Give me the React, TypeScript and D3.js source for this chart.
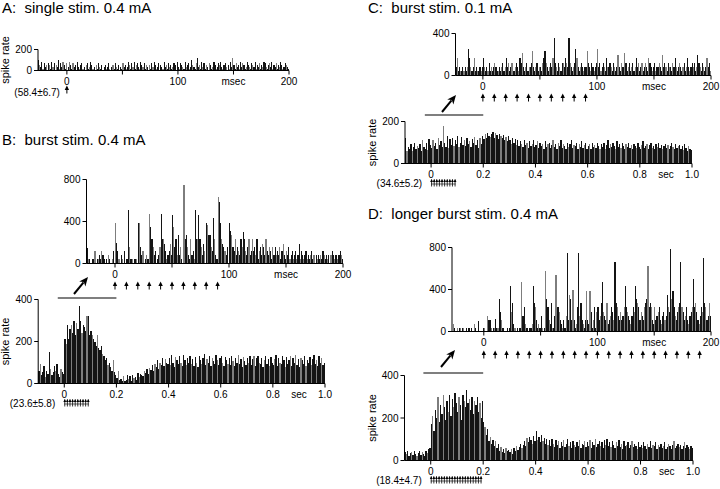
import React from 'react';
import * as d3 from 'd3';

const FONT = '"Liberation Sans", Arial, Helvetica, sans-serif';

// ---------- DATA ----------
// Panel A: single stim 0.4 mA, 1 ms bins starting at -26 ms
const aStart = -26;
const aRate = [
  102, 51, 34, 85, 17, 68, 34, 51, 0, 68, 51, 17, 85, 34, 68, 0, 51, 34, 102, 17,
  68, 34, 85, 51, 17, 68, 0, 34, 85, 51, 17, 68, 34, 51, 0, 85, 34, 17, 51, 68,
  17, 34, 0, 51, 68, 17, 34, 85, 51, 17, 34, 0, 51, 17, 68, 34, 17, 51, 0, 34,
  51, 17, 34, 68, 17, 0, 34, 51, 17, 68, 34, 17, 51, 0, 34, 17, 68, 34, 51, 17,
  34, 85, 51, 17, 68, 34, 85, 17, 51, 68, 34, 17, 85, 51, 34, 68, 17, 51, 34, 0,
  51, 17, 68, 34, 85, 51, 17, 34, 68, 0, 51, 34, 17, 85, 34, 51, 17, 68, 34, 51,
  17, 34, 68, 51, 0, 85, 34, 17, 68, 51, 34, 17, 85, 34, 51, 68, 17, 34, 102, 51,
  34, 17, 68, 119, 34, 51, 17, 85, 34, 68, 17, 51, 34, 0, 68, 51, 17, 34, 85, 51,
  17, 34, 68, 51, 85, 34, 17, 51, 68, 34, 0, 51, 17, 85, 34, 119, 51, 17, 68, 34,
  51, 17, 85, 34, 68, 51, 17, 34, 85, 51, 34, 17, 68, 51, 34, 85, 17, 51, 34, 68,
  17, 51, 34, 85, 68, 34, 17, 51, 68, 34, 85, 17, 51, 34, 68, 17, 51, 34, 85, 51,
  17, 34, 68, 51, 34, 17,
];

// Panel B upper: burst stim 0.4 mA, 1 ms bins from -25 ms
const bUpStart = -25;
const bUpRate = [
  150, 40, 40, 0, 0, 40, 40, 115, 0, 40, 40, 80, 40, 115, 80, 40, 0, 40, 0, 80, 40, 0, 40, 115, 0,
  390, 200, 115, 40, 0, 80, 40, 0, 115, 0,
  40, 510, 155, 40, 40, 40, 0, 40, 40, 0,
  390, 390, 155, 80, 115, 0, 40, 80, 40, 40,
  470, 350, 230, 155, 80, 115, 0, 40, 80, 155,
  470, 230, 230, 190, 115, 40, 80, 115, 190, 80,
  460, 350, 155, 230, 80, 270, 80, 155, 40, 0,
  750, 230, 270, 155, 80, 40, 230, 80, 115, 40,
  510, 230, 230, 460, 230, 155, 80, 190, 115, 0,
  390, 370, 270, 270, 155, 115, 430, 230, 80, 40,
  630, 590, 390, 230, 190, 155, 115, 80, 155, 0,
  390, 310, 270, 155, 115, 230, 80, 155, 115, 80,
  230, 155, 300, 230, 115, 80, 155, 230, 80, 115,
  230, 115, 155, 80, 230, 40, 115, 155, 80, 190,
  155, 80, 230, 115, 80, 155, 115, 40, 155, 80,
  155, 80, 115, 80, 155, 40, 115, 190, 80, 40,
  115, 80, 155, 40, 80, 115, 40, 80, 115, 40,
  80, 190, 40, 115, 80, 40, 80, 115, 40, 80,
  40, 80, 115, 40, 80, 0, 80, 40, 80, 40,
  80, 40, 115, 80, 40, 80, 40, 80, 0, 80,
  120, 80, 40, 80, 80, 40, 80, 115, 80, 40,
];

// Panel B lower: 5 ms bins from -100 ms to 1000 ms
const lowStart = -100;
const bLowRate = [
  60, 95, 40, 55, 85, 30, 60, 45, 150, 70,
  40, 55, 85, 60, 95, 45, 30, 70, 55, 45,
  210, 190, 280, 210, 260, 280, 240, 300, 230, 290,
  260, 370, 300, 240, 280, 270, 250, 320, 320, 230,
  250, 230, 210, 200, 180, 230, 170, 160, 180, 140,
  130, 110, 120, 90, 100, 80, 60, 110, 55, 40,
  25, 60, 15, 20, 10, 35, 10, 15, 40, 20,
  35, 10, 40, 25, 30, 15, 50, 30, 45, 40,
  35, 60, 50, 70, 45, 75, 65, 90, 60, 95,
  80, 110, 70, 100, 90, 120, 85, 115, 100, 95,
  120, 90, 135, 100, 80, 125, 110, 95, 130, 100,
  85, 135, 110, 90, 120, 100, 130, 95, 115, 85,
  125, 100, 80, 130, 110, 95, 120, 140, 90, 115,
  100, 130, 85, 120, 105, 95, 135, 110, 90, 120,
  130, 100, 85, 125, 110, 95, 120, 90, 130, 105,
  85, 120, 100, 135, 95, 115, 80, 125, 105, 90,
  120, 100, 130, 90, 115, 130, 85, 120, 130, 100,
  95, 120, 80, 110, 130, 95, 115, 85, 125, 100,
  90, 115, 135, 85, 120, 100, 95, 130, 110, 80,
  125, 95, 110, 130, 85, 120, 100, 135, 90, 115,
  80, 120, 110, 95, 130, 85, 110, 100, 125, 90,
  115, 135, 95, 110, 85, 130, 100, 120, 90, 100,
];

// Panel C upper: burst stim 0.1 mA, 1 ms bins from -24 ms
const cUpStart = -24;
const cUpRate = [
  80, 170, 40, 80, 40, 40, 80, 40, 80, 40, 80, 250, 170, 80, 40, 80, 170, 40, 80, 40, 40, 80, 40, 80,
  170, 80, 40, 80, 40, 120, 40, 80, 40, 80,
  120, 80, 40, 40, 80, 40, 80, 120, 40, 80,
  170, 80, 120, 40, 80, 120, 40, 40, 80, 120,
  80, 40, 170, 120, 210, 80, 40, 80, 120, 40,
  80, 80, 120, 230, 80, 40, 80, 120, 40, 80,
  80, 40, 120, 170, 230, 120, 80, 40, 80, 120,
  80, 170, 360, 120, 80, 40, 120, 80, 40, 120,
  120, 80, 170, 120, 80, 360, 120, 80, 40, 80,
  120, 250, 170, 80, 40, 80, 120, 80, 40, 80,
  80, 230, 120, 80, 40, 120, 80, 40, 80, 120,
  250, 80, 120, 40, 80, 120, 80, 40, 170, 80,
  80, 120, 80, 40, 120, 80, 40, 80, 200, 80,
  40, 120, 80, 80, 210, 120, 40, 80, 120, 40,
  80, 120, 40, 80, 170, 80, 120, 40, 80, 120,
  40, 80, 120, 80, 40, 170, 120, 80, 40, 80,
  120, 40, 80, 80, 120, 80, 40, 200, 80, 120,
  80, 40, 120, 80, 80, 40, 120, 80, 170, 80,
  40, 80, 120, 80, 40, 80, 120, 40, 80, 170,
  80, 40, 80, 120, 80, 120, 40, 80, 200, 120,
  80, 40, 120, 80, 40, 80, 170, 80, 120, 40,
];

// Panel C lower: 5 ms bins
const cLowRate = [
  120, 60, 80, 70, 95, 60, 80, 100, 70, 85,
  75, 95, 60, 110, 80, 70, 100, 65, 115, 90,
  75, 110, 85, 100, 70, 120, 90, 105, 80, 180,
  100, 80, 130, 75, 115, 90, 120, 85, 110, 95,
  130, 80, 100, 125, 90, 110, 85, 120, 95, 105,
  80, 115, 100, 125, 90, 110, 75, 120, 95, 130,
  115, 140, 120, 145, 130, 125, 140, 150, 120, 145,
  135, 115, 140, 130, 120, 135, 110, 125, 105, 130,
  110, 95, 120, 100, 115, 90, 110, 85, 105, 95,
  80, 110, 90, 100, 75, 105, 85, 95, 110, 80,
  90, 105, 75, 100, 85, 95, 70, 105, 80, 95,
  100, 75, 90, 110, 80, 95, 70, 100, 85, 110,
  75, 95, 85, 70, 100, 80, 95, 110, 75, 90,
  85, 100, 70, 95, 80, 105, 75, 90, 100, 70,
  85, 95, 70, 100, 80, 90, 75, 100, 85, 70,
  95, 80, 100, 70, 90, 110, 75, 95, 80, 100,
  85, 70, 105, 80, 95, 75, 100, 85, 70, 95,
  80, 100, 75, 90, 70, 95, 85, 75, 100, 80,
  70, 90, 105, 75, 85, 95, 70, 90, 100, 75,
  85, 70, 95, 80, 100, 75, 90, 70, 85, 95,
  75, 90, 70, 85, 100, 80, 70, 95, 75, 85,
  90, 70, 85, 65, 95, 75, 60, 85, 70, 65,
];

// Panel D upper: longer burst stim 0.4 mA, 1 ms bins from -28 ms
const dUpStart = -28;
const dUpRate = [
  0, 70, 30, 0, 30, 0, 30, 30, 0, 30, 30, 0, 30, 0, 30, 30, 0, 30, 0, 70, 30, 0, 0, 100, 0, 0, 0, 30,
  30, 0, 0, 150, 110, 110, 30, 0, 30, 30,
  120, 30, 30, 310, 190, 110, 30, 30, 0, 0,
  30, 0, 30, 430, 190, 270, 70, 30, 0, 30,
  0, 30, 30, 470, 150, 230, 70, 30, 30, 0,
  30, 30, 70, 430, 270, 230, 110, 30, 70, 30,
  150, 30, 0, 30, 580, 310, 230, 110, 70, 270,
  30, 30, 150, 540, 230, 230, 190, 110, 70, 30,
  110, 30, 150, 750, 110, 350, 310, 110, 400, 110,
  30, 70, 230, 750, 150, 270, 110, 70, 30, 110,
  390, 110, 70, 390, 190, 30, 110, 230, 30, 190,
  230, 110, 150, 270, 470, 190, 150, 110, 270, 70,
  110, 150, 230, 190, 110, 660, 270, 230, 150, 110,
  190, 110, 150, 230, 430, 230, 190, 150, 110, 70,
  150, 230, 190, 430, 310, 270, 230, 110, 190, 150,
  110, 230, 270, 310, 620, 230, 270, 230, 110, 70,
  230, 110, 150, 190, 230, 110, 70, 150, 190, 110,
  150, 350, 230, 190, 790, 310, 390, 230, 150, 110,
  190, 230, 270, 660, 230, 190, 110, 150, 230, 110,
  70, 150, 190, 230, 500, 230, 270, 190, 110, 70,
  150, 230, 190, 700, 270, 230, 110, 150, 270, 150,
];

// Panel D lower: 5 ms bins
const dLowRate = [
  40, 30, 45, 20, 35, 40, 25, 45, 30, 20,
  35, 45, 25, 40, 30, 20, 45, 35, 55, 60,
  170, 210, 140, 240, 200, 300, 180, 260, 220, 310,
  250, 190, 280, 230, 310, 210, 290, 250, 320, 270,
  230, 300, 260, 190, 310, 280, 250, 330, 270, 290,
  240, 300, 220, 280, 260, 300, 230, 270, 200, 280,
  180, 160, 120, 150, 90, 110, 80, 95, 70, 90,
  60, 80, 45, 65, 40, 55, 35, 60, 45, 50,
  40, 55, 30, 60, 45, 70, 50, 65, 80, 60,
  75, 90, 70, 105, 85, 110, 95, 80, 115, 90,
  140, 95, 110, 85, 120, 90, 105, 80, 100, 75,
  95, 70, 100, 80, 65, 95, 75, 90, 60, 85,
  70, 95, 65, 80, 100, 70, 85, 60, 90, 75,
  65, 85, 70, 95, 60, 80, 75, 90, 65, 85,
  70, 95, 60, 85, 75, 100, 65, 80, 90, 70,
  85, 60, 95, 75, 100, 70, 85, 65, 90, 75,
  60, 85, 70, 95, 65, 80, 55, 90, 70, 75,
  85, 60, 75, 90, 65, 80, 70, 55, 85, 65,
  75, 60, 85, 70, 55, 80, 65, 90, 60, 75,
  70, 85, 55, 75, 65, 80, 60, 70, 85, 55,
  65, 80, 70, 55, 75, 90, 60, 70, 80, 65,
  75, 55, 70, 85, 60, 75, 65, 55, 70, 60,
];

// Stimulus pulse times (ms)
const burst10 = [0, 10, 20, 30, 40, 50, 60, 70, 80, 90];
const burst20 = [0, 10, 20, 30, 40, 50, 60, 70, 80, 90, 100, 110, 120, 130, 140, 150, 160, 170, 180, 190];
const single = [0];

// Tick labels
const msTicks = [0, 50, 100, 150, 200];
const msLabels = [
  { v: 0, t: '0' },
  { v: 100, t: '100' },
  { v: 150, t: 'msec' },
  { v: 200, t: '200' },
];
const secTicks = [0, 200, 400, 600, 800, 1000];
const secLabels = [
  { v: 0, t: '0' },
  { v: 200, t: '0.2' },
  { v: 400, t: '0.4' },
  { v: 600, t: '0.6' },
  { v: 800, t: '0.8' },
  { v: 900, t: 'sec' },
  { v: 1000, t: '1.0' },
];

// ---------- COMPONENTS ----------
type Lab = { v: number; t: string };
type HistProps = {
  data: number[];
  start: number;
  bin: number;
  domain: [number, number];
  range: [number, number];
  yMax: number;
  yRange: [number, number];
  yTicks: number[];
  xTicks: number[];
  xLabels: Lab[];
  stims?: number[];
  stimStyle?: 'arrow' | 'compact';
  stimLabel?: string;
  ylabel?: boolean;
  arrowGap?: number;
  grayEvery?: number;
};

function UpArrow({ x, y, h = 8, w = 4.4 }: { x: number; y: number; h?: number; w?: number }) {
  return (
    <g>
      <line x1={x} x2={x} y1={y + 2} y2={y + h} stroke="#000" strokeWidth={1} />
      <path d={`M${x},${y} L${x - w / 2},${y + 4.5} L${x + w / 2},${y + 4.5} Z`} fill="#000" />
    </g>
  );
}

function Hist(p: HistProps) {
  const x = d3.scaleLinear().domain(p.domain).range(p.range);
  const y = d3.scaleLinear().domain([0, p.yMax]).range(p.yRange);
  const y0 = y(0);
  const x0 = p.range[0];
  const ge = p.grayEvery ?? 3;
  return (
    <g>
      <g shapeRendering="crispEdges">
        {p.data.map((v, i) => {
          if (v <= 0) return null;
          const t = p.start + i * p.bin;
          const xa = x(t);
          const xb = x(t + p.bin);
          return (
            <rect
              key={i}
              x={xa}
              y={y(v)}
              width={Math.max(1, xb - xa)}
              height={y0 - y(v)}
              fill={i % ge === 1 ? '#7d7d7d' : '#141414'}
            />
          );
        })}
      </g>
      <line x1={x0} x2={p.range[1]} y1={y0} y2={y0} stroke="#000" strokeWidth={1} />
      <line x1={x0} x2={x0} y1={y0} y2={y(p.yMax)} stroke="#000" strokeWidth={1} />
      {p.yTicks.map((v) => (
        <g key={'y' + v}>
          <line x1={x0 - 4} x2={x0} y1={y(v)} y2={y(v)} stroke="#000" strokeWidth={1} />
          <text x={x0 - 6} y={y(v) + 3.5} textAnchor="end" fontSize={10}>
            {v}
          </text>
        </g>
      ))}
      {p.xTicks.map((v) => (
        <line key={'x' + v} x1={x(v)} x2={x(v)} y1={y0} y2={y0 + 4} stroke="#000" strokeWidth={1} />
      ))}
      {p.xLabels.map((l) => (
        <text key={l.t} x={x(l.v)} y={y0 + 14} textAnchor="middle" fontSize={10}>
          {l.t}
        </text>
      ))}
      {p.stims && p.stimStyle === 'arrow' &&
        p.stims.map((s) => <UpArrow key={'s' + s} x={x(s)} y={y0 + (p.arrowGap ?? 18)} />)}
      {p.stims && p.stimStyle === 'compact' && (
        <g>
          {p.stims.map((s) => (
            <g key={'c' + s}>
              <line x1={x(s) + 0.5} x2={x(s) + 0.5} y1={y0 + 16} y2={y0 + 23} stroke="#000" strokeWidth={0.8} />
              <path
                d={`M${x(s) + 0.5},${y0 + 15.5} L${x(s) - 0.9},${y0 + 18.5} L${x(s) + 1.9},${y0 + 18.5} Z`}
                fill="#000"
              />
            </g>
          ))}
          <line x1={x(p.stims[0])} x2={x(p.stims[p.stims.length - 1]) + 1} y1={y0 + 20.5} y2={y0 + 20.5} stroke="#000" strokeWidth={0.6} />
        </g>
      )}
      {p.stimLabel && (
        <text x={x(0) - (p.stimStyle === 'arrow' ? 7 : 9)} y={y0 + (p.stimStyle === 'arrow' ? 25 : 23)} textAnchor="end" fontSize={10}>
          {p.stimLabel}
        </text>
      )}
      {p.ylabel && (
        <text
          transform={`translate(${x0 - 29},${(y0 + y(p.yMax)) / 2}) rotate(-90)`}
          textAnchor="middle"
          fontSize={11}
        >
          spike rate
        </text>
      )}
    </g>
  );
}

function Zoom({ lowDomain, lowRange, lowY, upStart, tail, tip }: {
  lowDomain: [number, number]; lowRange: [number, number]; lowY: number; upStart: number;
  tail: [number, number]; tip: [number, number];
}) {
  const x = d3.scaleLinear().domain(lowDomain).range(lowRange);
  const ang = Math.atan2(tip[1] - tail[1], tip[0] - tail[0]);
  const hl = 9, hw = 4;
  const bx = tip[0] - hl * Math.cos(ang), by = tip[1] - hl * Math.sin(ang);
  const px = -Math.sin(ang) * hw, py = Math.cos(ang) * hw;
  return (
    <g>
      <line x1={x(upStart)} x2={x(200)} y1={lowY} y2={lowY} stroke="#000" strokeWidth={1.2} />
      <line x1={tail[0]} y1={tail[1]} x2={bx + 2 * Math.cos(ang)} y2={by + 2 * Math.sin(ang)} stroke="#000" strokeWidth={2} />
      <path d={`M${tip[0]},${tip[1]} L${bx + px},${by + py} L${bx + 2.5 * Math.cos(ang)},${by + 2.5 * Math.sin(ang)} L${bx - px},${by - py} Z`} fill="#000" />
    </g>
  );
}

export default function App() {
  return (
    <svg
      width={720}
      height={489}
      style={{ position: 'absolute', left: 0, top: 0, background: '#fff' }}
      fontFamily={FONT}
    >
      {/* Titles */}
      <text x={2} y={13} fontSize={15}>A:{'\u00a0\u00a0'}single stim. 0.4 mA</text>
      <text x={2} y={145} fontSize={15}>B:{'\u00a0\u00a0'}burst stim. 0.4 mA</text>
      <text x={368} y={13} fontSize={15}>C:{'\u00a0\u00a0'}burst stim. 0.1 mA</text>
      <text x={368} y={219} fontSize={15}>D:{'\u00a0\u00a0'}longer burst stim. 0.4 mA</text>

      {/* A */}
      <Hist data={aRate} start={aStart} bin={1} domain={[-26, 200]} range={[38, 289]} yMax={200} yRange={[70.5, 49.5]}
        yTicks={[0, 200]} xTicks={msTicks} xLabels={msLabels} stims={single} stimStyle="arrow" stimLabel="(58.4±6.7)" ylabel arrowGap={15} />

      {/* B */}
      <Hist data={bUpRate} start={bUpStart} bin={1} domain={[-25, 200]} range={[86.5, 343]} yMax={800} yRange={[263.5, 179.5]}
        yTicks={[0, 400, 800]} xTicks={msTicks} xLabels={msLabels} stims={burst10} stimStyle="arrow" />
      <Zoom lowDomain={[-100, 1000]} lowRange={[38.2, 325]} lowY={298} upStart={-25} tail={[74, 294]} tip={[88, 277]} />
      <Hist data={bLowRate} start={lowStart} bin={5} domain={[-100, 1000]} range={[38.2, 325]} yMax={400} yRange={[383.5, 299.5]}
        yTicks={[0, 200, 400]} xTicks={secTicks} xLabels={secLabels} stims={burst10} stimStyle="compact" stimLabel="(23.6±5.8)" ylabel grayEvery={4} />

      {/* C */}
      <Hist data={cUpRate} start={cUpStart} bin={1} domain={[-24, 200]} range={[455.5, 711]} yMax={400} yRange={[75.5, 33.5]}
        yTicks={[0, 400]} xTicks={msTicks} xLabels={msLabels} stims={burst10} stimStyle="arrow" />
      <Zoom lowDomain={[-100, 1000]} lowRange={[405, 692]} lowY={115} upStart={-24} tail={[442, 112]} tip={[456, 95]} />
      <Hist data={cLowRate} start={lowStart} bin={5} domain={[-100, 1000]} range={[405, 692]} yMax={200} yRange={[163.5, 121.5]}
        yTicks={[0, 200]} xTicks={secTicks} xLabels={secLabels} stims={burst10} stimStyle="compact" stimLabel="(34.6±5.2)" ylabel grayEvery={4} />

      {/* D */}
      <Hist data={dUpRate} start={dUpStart} bin={1} domain={[-28, 200]} range={[452, 711]} yMax={800} yRange={[331.5, 247.5]}
        yTicks={[0, 400, 800]} xTicks={msTicks} xLabels={msLabels} stims={burst20} stimStyle="arrow" arrowGap={19} />
      <Zoom lowDomain={[-100, 1000]} lowRange={[404.5, 693]} lowY={373} upStart={-28} tail={[441, 367]} tip={[455, 350]} />
      <Hist data={dLowRate} start={lowStart} bin={5} domain={[-100, 1000]} range={[404.5, 693]} yMax={400} yRange={[460.5, 375.5]}
        yTicks={[0, 200, 400]} xTicks={secTicks} xLabels={secLabels} stims={burst20} stimStyle="compact" stimLabel="(18.4±4.7)" ylabel grayEvery={4} />
    </svg>
  );
}
